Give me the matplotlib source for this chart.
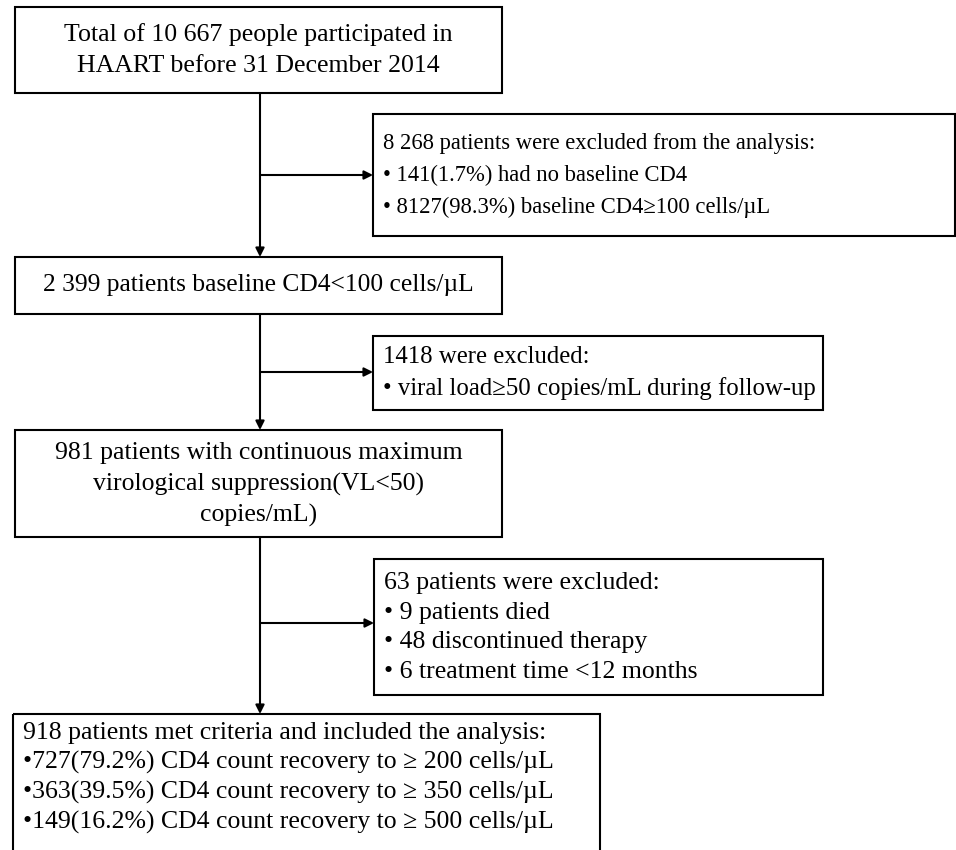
import matplotlib.pyplot as plt
from matplotlib.patches import Rectangle

FONT = "Liberation Serif"
LINE_W = 1.5

# box texts, one list per box
total_lines = ["Total of 10 667 people participated in", "HAART before 31 December 2014"]
excl1_lines = [
    "8 268 patients were excluded from the analysis:",
    "\u2022 141(1.7%) had no baseline CD4",
    "\u2022 8127(98.3%) baseline CD4\u2265100 cells/\u00b5L",
]
baseline_lines = ["2 399 patients baseline CD4<100 cells/\u00b5L"]
excl2_lines = [
    "1418 were excluded:",
    "\u2022 viral load\u226550 copies/mL during follow-up",
]
suppr_lines = [
    "981 patients with continuous maximum",
    "virological suppression(VL<50)",
    "copies/mL)",
]
excl3_lines = [
    "63 patients were excluded:",
    "\u2022 9 patients died",
    "\u2022 48 discontinued therapy",
    "\u2022 6 treatment time <12 months",
]
final_lines = [
    "918 patients met criteria and included the analysis:",
    "\u2022727(79.2%) CD4 count recovery to \u2265 200 cells/\u00b5L",
    "\u2022363(39.5%) CD4 count recovery to \u2265 350 cells/\u00b5L",
    "\u2022149(16.2%) CD4 count recovery to \u2265 500 cells/\u00b5L",
]

# layout in pixels: (left, top, right, bottom), first line y, line step, align, font size
MAIN_X = 260
boxes = [
    (total_lines, (15, 7, 502, 93), 35, 31, "center", 18.6),
    (excl1_lines, (373, 114, 955, 236), 143, 32, "left", 16.3),
    (baseline_lines, (15, 257, 502, 314), 285, 31, "center", 18.4),
    (excl2_lines, (373, 336, 823, 410), 357, 32, "left", 17.8),
    (suppr_lines, (15, 430, 502, 537), 453, 31, "center", 18.5),
    (excl3_lines, (374, 559, 823, 695), 583, 29.7, "left", 18.5),
    (final_lines, (13, 714, 600, 870), 733, 29.7, "left", 18.5),
]
side_arrow_y = [175, 372, 623]


def draw_box(ax, lines, rect, y0, step, align, size):
    left, top, right, bottom = rect
    ax.add_patch(
        Rectangle(
            (left, top),
            right - left,
            bottom - top,
            fill=False,
            edgecolor="black",
            linewidth=LINE_W,
        )
    )
    x = (left + right) / 2 if align == "center" else left + 10
    for i, line in enumerate(lines):
        ax.text(
            x,
            y0 + i * step,
            line,
            fontsize=size,
            family=[FONT, "DejaVu Serif"],
            ha=align,
            va="center",
        )


def arrow(ax, start, end):
    ax.annotate(
        "",
        xy=end,
        xytext=start,
        arrowprops=dict(
            arrowstyle="-|>",
            color="black",
            lw=LINE_W,
            mutation_scale=13,
            shrinkA=0,
            shrinkB=0,
        ),
    )


fig = plt.figure(figsize=(9.56, 8.5), dpi=100)
ax = fig.add_axes([0, 0, 1, 1])
ax.set_xlim(0, 956)
ax.set_ylim(850, 0)
ax.axis("off")

for lines, rect, y0, step, align, size in boxes:
    draw_box(ax, lines, rect, y0, step, align, size)

# main vertical arrows between the left-hand boxes
main_boxes = [boxes[0][1], boxes[2][1], boxes[4][1], boxes[6][1]]
for upper, lower in zip(main_boxes[:-1], main_boxes[1:]):
    arrow(ax, (MAIN_X, upper[3]), (MAIN_X, lower[1]))

# side arrows to the exclusion boxes
for y, rect in zip(side_arrow_y, [boxes[1][1], boxes[3][1], boxes[5][1]]):
    arrow(ax, (MAIN_X, y), (rect[0], y))

fig.savefig("out.png", dpi=100, facecolor="white")
plt.close(fig)
